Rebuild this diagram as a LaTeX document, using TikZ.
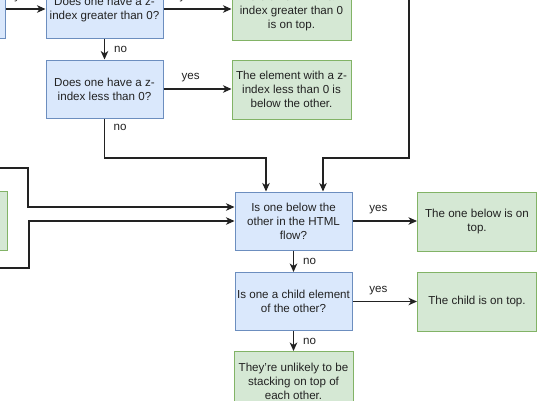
\documentclass[tikz,border=0pt]{standalone}
\usepackage{fontspec}
\setmainfont{Liberation Sans}
\usetikzlibrary{arrows.meta}
\definecolor{bfill}{HTML}{DAE8FC}
\definecolor{bdraw}{HTML}{6C8EBF}
\definecolor{gfill}{HTML}{D5E8D4}
\definecolor{gdraw}{HTML}{82B366}
\definecolor{ink}{HTML}{222222}
\tikzset{
  base/.style={minimum width=117pt, minimum height=58pt, inner sep=0pt, align=center,
    line width=1pt, text=ink, font=\fontsize{11.6}{14}\selectfont},
  qbox/.style={base, fill=bfill, draw=bdraw},
  abox/.style={base, fill=gfill, draw=gdraw, minimum width=119pt, minimum height=59pt},
  arr/.style={draw=ink, line width=1.2pt, -{Stealth[length=8.5pt,width=7.5pt,inset=2.5pt]}},
  lbl/.style={text=ink, inner sep=0pt, font=\fontsize{11.6}{14}\selectfont},
}
\begin{document}
\begin{tikzpicture}[x=1pt,y=-1pt]
\useasboundingbox (0,0) rectangle (556,400);
\clip (0,0) rectangle (556,400);
\fill[white] (0,0) rectangle (556,400);

% boxes
\node[qbox] (lb) at (-53.5,9) {};
\node[abox] (lg) at (-52,221) {};
\node[qbox] (b1) at (104.5,9) {Does one have a z-\\index greater than 0?};
\node[abox] (g1) at (291.5,11) {The element with a z-\\index greater than 0\\is on top.};
\node[qbox] (b2) at (104.5,89) {Does one have a z-\\index less than 0?};
\node[abox] (g2) at (291.5,89.5) {The element with a z-\\index less than 0 is\\below the other.};
\node[qbox] (b3) at (293.5,221) {Is one below the\\other in the HTML\\flow?};
\node[abox] (g3) at (477,221.5) {The one below is on\\top.};
\node[qbox] (b4) at (293.5,301.5) {Is one a child element\\of the other?};
\node[abox] (g4) at (477,301.5) {The child is on top.};
\node[abox] (g5) at (293.5,381) {They're unlikely to be\\stacking on top of\\each other.};

% free ends
\coordinate (j1) at (266,158);
\coordinate (r0) at (409,-5);
\coordinate (r1) at (323,158);
\coordinate (l0) at (-5,168);
\coordinate (l1) at (28,207);
\coordinate (m0) at (-5,268);
\coordinate (m1) at (29,221);

% connectors
\draw[arr] (lb.east) -- node[lbl, pos=0.45, yshift=11pt] (ly0) {yes} (b1.west);
\draw[arr] (b1.east) -- node[lbl, pos=0.37, yshift=11pt] (ly1) {yes} (b1.east -| g1.west);
\draw[arr] (b1.south) -- node[lbl, xshift=16pt] (ln1) {no} (b2.north);
\draw[arr] (b2.east) -- node[lbl, pos=0.4, yshift=11pt] (ly2) {yes} (b2.east -| g2.west);
\draw[arr] (b2.south) -- (b2.south |- j1) -- (j1) -- (j1 |- b3.north);
\node[lbl] (ln2) at (120,127) {no};
\draw[arr] (r0) |- (r1) -- (r1 |- b3.north);
\draw[arr] (l0) -| (l1) -- (l1 -| b3.west);
\draw[arr] (m0) -| (m1) -- (m1 -| b3.west);
\draw[arr] (b3.east) -- node[lbl, pos=0.4, yshift=11pt] (ly3) {yes} (g3.west |- b3.east);
\draw[arr] (b3.south) -- node[lbl, xshift=16pt] (ln3) {no} (b4.north);
\draw[arr] (b4.east) -- node[lbl, pos=0.4, yshift=11pt] (ly4) {yes} (g4.west);
\draw[arr] (b4.south) -- node[lbl, xshift=16pt] (ln4) {no} (g5.north);
\end{tikzpicture}
\end{document}
